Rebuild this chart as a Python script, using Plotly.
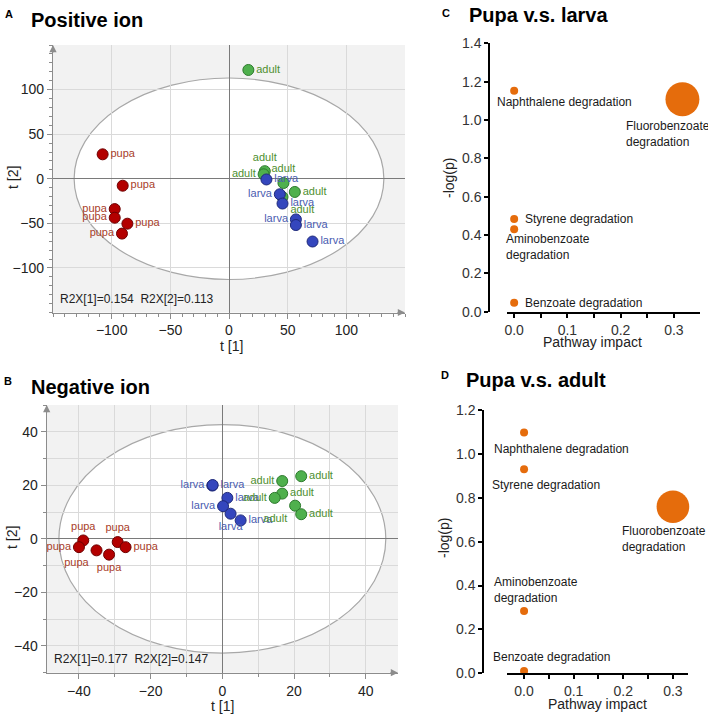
import plotly.graph_objects as go

W, H = 708, 717

# ---------- PCA scores, positive ion (panel A) ----------
pos_pupa_t1 = [-107.7, -90.6, -97.4, -97.4, -86.6, -91.2]
pos_pupa_t2 = [27.4, -7.8, -34.0, -43.7, -50.4, -61.5]
pos_larva_t1 = [31.9, 43.3, 45.6, 57.0, 57.0, 71.2]
pos_larva_t2 = [-0.8, -17.4, -27.8, -45.6, -51.9, -70.4]
pos_adult_t1 = [16.5, 30.5, 29.5, 46.4, 56.1, 45.6]
pos_adult_t2 = [122.0, 8.5, 5.0, -4.8, -14.8, -20.4]
pos_r2x = [0.154, 0.113]
pos_ellipse = [132, 113]
pos_ticks = [-100, -50, 0, 50, 100]

# ---------- PCA scores, negative ion (panel B) ----------
neg_pupa_t1 = [-38.8, -40.0, -35.1, -31.6, -29.2, -27.0]
neg_pupa_t2 = [-0.6, -3.1, -4.3, -5.9, -1.2, -3.1]
neg_larva_t1 = [-2.8, -2.7, 1.4, 0.2, 2.3, 5.1]
neg_larva_t2 = [19.9, 20.1, 15.3, 12.2, 9.4, 6.9]
neg_adult_t1 = [16.7, 22.0, 16.7, 14.6, 20.3, 22.0]
neg_adult_t2 = [21.6, 23.4, 16.9, 15.3, 12.4, 9.2]
neg_r2x = [0.177, 0.147]
neg_ellipse = [45.6, 42.7]
neg_ticks = [-40, -20, 0, 20, 40]

# ---------- pathway analysis (panels C, D) ----------
pathways = ["Naphthalene degradation", "Fluorobenzoate<br>degradation",
            "Styrene degradation", "Aminobenzoate<br>degradation",
            "Benzoate degradation"]
larva_impact = [0.0, 0.316, 0.0, 0.0, 0.0]
larva_logp = [1.153, 1.108, 0.484, 0.43, 0.047]
adult_impact = [0.0, 0.30, 0.0, 0.0, 0.0]
adult_logp = [1.098, 0.759, 0.93, 0.284, 0.01]

# label offsets (px) for the pathway names
c_shift = [(-19, -11), (-58, -35), (9, 0), (-10, -18), (9, 0)]
d_shift = [(-32, -17), (-53, -32), (-34, -16), (-32, 21), (-33, 14)]
pupa_pos_A = ["middle right", "middle right", "middle left", "middle left", "middle right", "middle left"]
larva_pos_A = ["middle right", "middle left", "middle right", "middle left", "middle right", "middle right"]
adult_pos_A = ["middle right", "top center", "middle left", "top center", "middle right", "bottom right"]
pupa_pos_B = ["top center", "middle left", "bottom left", "bottom center", "top center", "middle right"]
larva_pos_B = ["middle left", "middle right", "middle right", "middle left", "bottom center", "middle right"]
adult_pos_B = ["middle left", "middle right", "middle right", "middle left", "bottom left", "middle right"]

COL = {"pupa": ("#b30000", "#6e0000", "#a8402a"),
       "larva": ("#3446bd", "#1f2a7a", "#4a5cb0"),
       "adult": ("#4fb04d", "#2d7a2d", "#4e8f2f")}
ORANGE = "#e56c0c"
LABEL_FONT = "Liberation Sans Narrow, Arial Narrow, Liberation Sans, sans-serif"
FONT = "Liberation Sans, Arial, sans-serif"


def px(x):
    return x / W


def py(y):
    return 1 - y / H


fig = go.Figure()


def add_group(name, xs, ys, poss, xa, ya):
    fill, edge, tcol = COL[name]
    fig.add_trace(go.Scatter(
        x=xs, y=ys, mode="markers+text", text=[name] * len(xs), textposition=poss,
        marker=dict(size=11, color=fill, line=dict(color=edge, width=1)),
        textfont=dict(family=LABEL_FONT, size=11, color=tcol),
        xaxis=xa, yaxis=ya, showlegend=False, hoverinfo="skip"))


add_group("pupa", pos_pupa_t1, pos_pupa_t2, pupa_pos_A, "x", "y")
add_group("adult", pos_adult_t1, pos_adult_t2, adult_pos_A, "x", "y")
add_group("larva", pos_larva_t1, pos_larva_t2, larva_pos_A, "x", "y")
add_group("pupa", neg_pupa_t1, neg_pupa_t2, pupa_pos_B, "x2", "y2")
add_group("larva", neg_larva_t1, neg_larva_t2, larva_pos_B, "x2", "y2")
add_group("adult", neg_adult_t1, neg_adult_t2, adult_pos_B, "x2", "y2")

# bubble plots
for xs, ys, xa, ya in [(larva_impact, larva_logp, "x3", "y3"),
                       (adult_impact, adult_logp, "x4", "y4")]:
    fig.add_trace(go.Scatter(
        x=xs, y=ys, mode="markers", cliponaxis=False,
        marker=dict(size=[8 + 82 * v for v in xs], color=ORANGE, opacity=1,
                    line=dict(width=0)),
        xaxis=xa, yaxis=ya, showlegend=False, hoverinfo="skip"))

annotations = []
for i, name in enumerate(pathways):
    for xs, ys, shifts, xr, yr in [(larva_impact, larva_logp, c_shift, "x3", "y3"),
                                   (adult_impact, adult_logp, d_shift, "x4", "y4")]:
        annotations.append(dict(
            x=xs[i], y=ys[i], xref=xr, yref=yr, text=name, showarrow=False,
            xanchor="left", yanchor="middle", align="left",
            xshift=shifts[i][0], yshift=shifts[i][1],
            font=dict(family=FONT, size=12, color="#1a1a1a")))

# panel titles
for letter, title, lx, ly, tx, ty in [("A", "Positive ion", 9, 14, 29, 20),
                                      ("B", "Negative ion", 8, 381, 29, 387),
                                      ("C", "Pupa v.s. larva", 446, 13, 467, 15),
                                      ("D", "Pupa v.s. adult", 445, 375, 464, 380)]:
    annotations.append(dict(x=px(lx), y=py(ly), xref="paper", yref="paper", text="<b>%s</b>" % letter,
                            showarrow=False, xanchor="center", yanchor="middle",
                            font=dict(family=FONT, size=11, color="black")))
    annotations.append(dict(x=px(tx), y=py(ty), xref="paper", yref="paper", text="<b>%s</b>" % title,
                            showarrow=False, xanchor="left", yanchor="middle",
                            font=dict(family=FONT, size=20, color="black")))

# axis titles
for text, x, y, ang in [("t [1]", 232, 346, 0), ("t [2]", 13, 178, -90),
                        ("t [1]", 222, 706, 0), ("t [2]", 12, 538, -90),
                        ("Pathway impact", 592, 342, 0), ("-log(p)", 449, 178, -90),
                        ("Pathway impact", 597, 704, 0), ("-log(p)", 444, 538, -90)]:
    annotations.append(dict(x=px(x), y=py(y), xref="paper", yref="paper", text=text,
                            showarrow=False, textangle=ang, xanchor="center", yanchor="middle",
                            font=dict(family=FONT, size=14, color="#222")))

# R2X labels
for r2x, xr, yr in [(pos_r2x, "x domain", "y domain"), (neg_r2x, "x2 domain", "y2 domain")]:
    annotations.append(dict(x=0.015, y=0.05, xref=xr, yref=yr,
                            text="R2X[1]=%.3f  R2X[2]=%.3f" % tuple(r2x), showarrow=False,
                            xanchor="left", yanchor="middle",
                            font=dict(family=FONT, size=12, color="#222")))

# axis arrows for the score plots
for xr, yr in [("x domain", "y domain"), ("x2 domain", "y2 domain")]:
    annotations.append(dict(x=1.0, y=0, xref=xr, yref=yr, ax=-9, ay=0, text="", showarrow=True,
                            arrowhead=2, arrowsize=1.2, arrowwidth=1.2, arrowcolor="#8c8c8c"))
    annotations.append(dict(x=0, y=1.0, xref=xr, yref=yr, ax=0, ay=9, text="", showarrow=True,
                            arrowhead=2, arrowsize=1.2, arrowwidth=1.2, arrowcolor="#8c8c8c"))

shapes = []
for (ax_, ay_), xr, yr in [(pos_ellipse, "x", "y"), (neg_ellipse, "x2", "y2")]:
    shapes.append(dict(type="rect", xref=xr + " domain", yref=yr + " domain", x0=0, x1=1, y0=0, y1=1,
                       fillcolor="#f2f2f2", line=dict(width=0), layer="below"))
    shapes.append(dict(type="circle", xref=xr, yref=yr, x0=-ax_, x1=ax_, y0=-ay_, y1=ay_,
                       fillcolor="white", line=dict(color="#a8a8a8", width=1.2), layer="below"))

pca_axis = dict(showline=True, linecolor="#8c8c8c", linewidth=1.2, mirror=False, automargin=False,
                ticks="outside", ticklen=5, tickcolor="#8c8c8c",
                showgrid=True, gridcolor="#dadada", gridwidth=1,
                zeroline=True, zerolinecolor="#7a7a7a", zerolinewidth=1,
                tickfont=dict(family=FONT, size=14, color="#222"))

bub_axis = dict(showline=True, linecolor="black", linewidth=2, ticks="outside", automargin=False,
                ticklen=4, tickwidth=2, tickcolor="black", showgrid=False, zeroline=False,
                tickformat=".1f", tickfont=dict(family=FONT, size=14, color="#333"))

fig.update_layout(
    width=W, height=H, margin=dict(l=0, r=0, t=0, b=0, pad=0),
    paper_bgcolor="white", plot_bgcolor="white",
    xaxis=dict(pca_axis, domain=[px(53), px(405)], range=[-150, 150], tickvals=pos_ticks, anchor="y",
               minor=dict(dtick=10, ticks="outside", ticklen=3, tickcolor="#8c8c8c", showgrid=False)),
    yaxis=dict(pca_axis, domain=[py(312.5), py(45)], range=[-150, 150], tickvals=pos_ticks, anchor="x",
               minor=dict(dtick=10, ticks="outside", ticklen=3, tickcolor="#8c8c8c", showgrid=False)),
    xaxis2=dict(pca_axis, domain=[px(46.7), px(398)], range=[-49, 49], tickvals=neg_ticks, anchor="y2",
                minor=dict(dtick=10, ticks="outside", ticklen=3, tickcolor="#8c8c8c",
                           showgrid=True, gridcolor="#dadada")),
    yaxis2=dict(pca_axis, domain=[py(672.7), py(405)], range=[-50, 50], tickvals=neg_ticks, anchor="x2",
                minor=dict(dtick=10, ticks="outside", ticklen=3, tickcolor="#8c8c8c",
                           showgrid=True, gridcolor="#dadada")),
    xaxis3=dict(bub_axis, domain=[px(506.7), px(700)], range=[-0.014, 0.349], dtick=0.1, anchor="y3",
                minor=dict(dtick=0.05, ticks="outside", ticklen=4, tickwidth=2, tickcolor="black")),
    yaxis3=dict(bub_axis, domain=[py(311.7), py(43.3)], range=[0, 1.4], dtick=0.2,
                anchor="free", position=px(489.3)),
    xaxis4=dict(bub_axis, domain=[px(506.7), px(688.3)], range=[-0.035, 0.331], dtick=0.1, anchor="y4",
                minor=dict(dtick=0.05, ticks="outside", ticklen=4, tickwidth=2, tickcolor="black")),
    yaxis4=dict(bub_axis, domain=[py(673.3), py(410)], range=[0, 1.2], dtick=0.2,
                anchor="free", position=px(483.3)),
    annotations=annotations, shapes=shapes,
)

# drop the browser's default body margin so the figure sits at the page origin
fig.write_html("out.html", config={"displayModeBar": False},
               post_script="document.body.style.margin='0';")
